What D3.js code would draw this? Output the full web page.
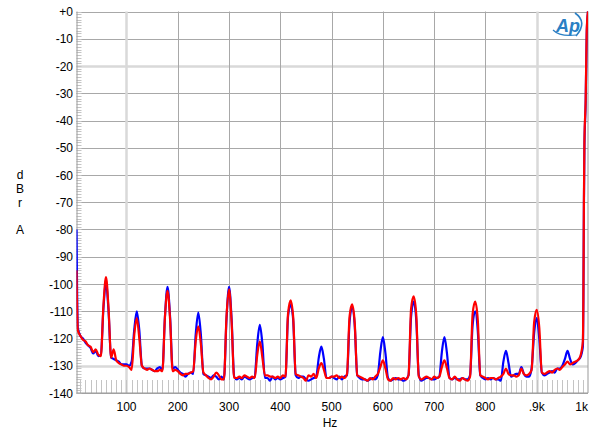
<!DOCTYPE html>
<html><head><meta charset="utf-8">
<script src="https://cdn.jsdelivr.net/npm/d3@7"></script>
<style>
body{margin:0;background:#fff}
svg{display:block}
text{font-family:"Liberation Sans",Arial,sans-serif;font-size:12px;fill:#000}
</style>
</head><body>
<svg id="c" width="600" height="437"></svg>
<script>
// ---------- data ----------
const yTicks = [0,-10,-20,-30,-40,-50,-60,-70,-80,-90,-100,-110,-120,-130,-140];
const yTickLabels = ["+0","-10","-20","-30","-40","-50","-60","-70","-80","-90","-100","-110","-120","-130","-140"];
const xTicks = [100,200,300,400,500,600,700,800,900,1000];
const xTickLabels = ["100","200","300","400","500","600","700","800",".9k","1k"];

// measurement frequency grid (Hz): start point, 5 Hz bins, then fundamental skirt
const startFreq = [2.5];
const binFreqs = d3.range(5, 986, 5);
const fundFreqs = [990, 991, 992, 993, 995.5, 997.5, 1000];

const blueStart = [-80];
const redStart = [-95];
const blueBins = [
 -116,-119,-120,-121.5,-122.5,-123.5,-125.5,-124.5,-126.5,-126,-109,-99.5,
 -110,-127,-127.5,-128,-128.5,-129.5,-129.5,-129.5,-130,-128.5,-117,-110,
 -117,-130,-131,-131,-131,-131.5,-132,-131,-130.5,-131.5,-112,-101,
 -112,-131,-130.5,-131.5,-132.5,-133,-134,-133,-132.5,-133,-118.5,-110.5,
 -118.5,-133,-133.5,-134,-134.5,-133.5,-134,-135,-134,-135,-113,-101,
 -113,-134,-135,-134.5,-135,-134,-134.5,-135,-134.5,-134,-122,-115,
 -122,-134.5,-134.5,-135.5,-134,-135,-134.5,-135,-134.5,-134,-112,-107.5,
 -113,-133.5,-134.5,-134,-134,-135,-135.5,-135,-134.5,-134,-127,-123,
 -127.5,-134.5,-134.5,-134,-134.5,-135,-134,-135,-134,-133.5,-114,-108.5,
 -115,-133.5,-134.5,-135,-135,-135.5,-135,-134.5,-135,-133.5,-125,-119.5,
 -125.5,-134.5,-135.5,-135,-134.5,-135,-135,-135.5,-135,-133.5,-112,-106.5,
 -113,-133.5,-135.5,-135,-134.5,-134.5,-135,-135,-134.5,-134,-125,-119.5,
 -125.5,-134.5,-135,-134.5,-135,-135,-134.5,-135,-135,-133.5,-115,-110,
 -117,-133.5,-134.5,-135,-134.5,-135,-134.5,-135,-135,-135.5,-128.5,-124.5,
 -129,-134,-133.5,-133,-133,-130.5,-133,-134,-134,-131,-118,-112.5,
 -120,-132.5,-133.5,-133,-132.5,-132,-132.5,-131,-131,-130,-127.5,-124.5,
 -127.5,-129.5,-129,-128,-127
];
const redBins = [
 -117,-119,-120.5,-121,-122.5,-123,-125,-124,-126,-126.5,-108,-97.5,
 -109,-127,-124,-128,-129,-129.5,-130,-130,-130.5,-131.5,-119,-112.5,
 -120,-130,-131,-131.5,-131,-131.5,-132,-132,-131.5,-132,-112,-102.5,
 -113,-132,-131.5,-132,-133,-133.5,-133,-133,-132.5,-132,-121,-115.5,
 -122,-132.5,-133.5,-134.5,-135,-134,-132.5,-133.5,-135,-135,-112,-102,
 -114,-134.5,-134.5,-134,-134.5,-133.5,-134,-134.5,-134,-134.5,-126,-121,
 -127,-133.5,-133.5,-134,-134,-134.5,-134,-134.5,-133.5,-134,-111,-106,
 -112,-133,-133.5,-134,-134.5,-135.5,-133.5,-134,-133,-134.5,-131,-129,
 -131.5,-134.5,-134.5,-134,-134,-133.5,-134.5,-134,-134.5,-133,-112,-107.5,
 -114,-133.5,-134,-134.5,-135,-135.5,-134.5,-135,-134,-133,-130.5,-128,
 -131,-135,-135.5,-134.5,-135,-134.5,-135,-134.5,-135,-133.5,-109,-104.5,
 -111,-134,-135,-134.5,-134,-134.5,-135,-134,-134.5,-134,-130.5,-128,
 -131,-134.5,-135,-134,-135,-135.5,-134.5,-135,-135.5,-134,-111,-106.5,
 -113,-133.5,-134,-134.5,-135,-134.5,-134.5,-135,-134.5,-134,-133,-131,
 -133,-133.5,-133.5,-134,-133.5,-131,-133,-133.5,-133,-131.5,-114,-109.5,
 -116,-132.5,-133,-132.5,-132,-132.5,-131.5,-131,-131.5,-130.5,-129.5,-128.5,
 -129.5,-129,-128.5,-128,-126.5
];
const blueFund = [-123,-106,-72,-50,-33,-8,0];
const redFund  = [-121,-105,-70,-48,-32,-7,0];

// ---------- chart ----------
const svg = d3.select("#c");
const L = 76.5, R = 588, T = 11.5, B = 393;
const x = d3.scaleLinear().domain([2.5, 1000]).range([L, R]);
const y = d3.scaleLinear().domain([0, -140]).range([T, B]);
const px = v => Math.round(v) + 0.5;

svg.append("defs").append("clipPath").attr("id","clip")
  .append("rect").attr("x",L).attr("y",T-1).attr("width",R-L).attr("height",B-T+1);

const grid = svg.append("g");
const lightY = [-20,-130], lightX = [100,900];
yTicks.forEach(v => {
  const isLight = lightY.includes(v);
  grid.append("line").attr("x1",L).attr("x2",R).attr("y1",px(y(v))).attr("y2",px(y(v)))
    .attr("stroke", isLight ? "#d9d9d9" : "#a8a8a8").attr("stroke-width", isLight ? 2.5 : 1);
});
xTicks.filter(v => v < 1000).forEach(v => {
  const isLight = lightX.includes(v);
  grid.append("line").attr("y1",T).attr("y2",B).attr("x1",px(x(v))).attr("x2",px(x(v)))
    .attr("stroke", isLight ? "#d9d9d9" : "#a8a8a8").attr("stroke-width", isLight ? 2.5 : 1);
});
d3.range(0, -141, -1).forEach(v => {
  grid.append("line").attr("x1",L).attr("x2",L+5).attr("y1",px(y(v))).attr("y2",px(y(v)))
    .attr("stroke","#c4c4c4").attr("stroke-width",1);
});
d3.range(10, 1000, 10).forEach(v => {
  grid.append("line").attr("x1",px(x(v))).attr("x2",px(x(v))).attr("y1",B).attr("y2",B-13)
    .attr("stroke","#c4c4c4").attr("stroke-width",1);
});
grid.append("line").attr("x1",px(L)-0.5).attr("x2",px(L)-0.5).attr("y1",T).attr("y2",B).attr("stroke","#999");
grid.append("line").attr("x1",px(R)-0.5).attr("x2",px(R)-0.5).attr("y1",T).attr("y2",B).attr("stroke","#999");
grid.append("line").attr("x1",L).attr("x2",R).attr("y1",px(B)-0.5).attr("y2",px(B)-0.5).attr("stroke","#999");

svg.append("g").selectAll("text").data(yTicks).join("text")
  .attr("x", 73).attr("y", d => y(d) + 4.5).attr("text-anchor","end")
  .text((d,i) => yTickLabels[i]);
svg.append("g").selectAll("text").data(xTicks).join("text")
  .attr("x", d => d === 1000 ? R : x(d)).attr("y", 411)
  .attr("text-anchor", d => d === 1000 ? "end" : "middle")
  .text((d,i) => xTickLabels[i]);
svg.append("text").attr("x",330).attr("y",427).attr("text-anchor","middle").text("Hz");
[["d",174],["B",188.5],["r",202],["A",229.5]].forEach(([t,cy]) =>
  svg.append("text").attr("x",20).attr("y",cy+4.5).attr("text-anchor","middle").text(t));

function build(start, bins, fund) {
  const f = startFreq.concat(binFreqs, fundFreqs);
  const v = start.concat(bins, fund);
  return f.map((ff,i) => [ff, v[i]]);
}
const line = d3.line().x(d => x(d[0])).y(d => y(d[1])).curve(d3.curveMonotoneX);
const plot = svg.append("g").attr("clip-path","url(#clip)");
plot.append("path").datum(build(blueStart, blueBins, blueFund))
  .attr("fill","none").attr("stroke","#0000ff").attr("stroke-width",2.2).attr("stroke-linejoin","round").attr("d",line);
plot.append("path").datum(build(redStart, redBins, redFund))
  .attr("fill","none").attr("stroke","#ff0000").attr("stroke-width",2.2).attr("stroke-linejoin","round").attr("d",line);

const logo = svg.append("g");
logo.append("text").attr("x",556).attr("y",32).attr("font-style","italic").attr("font-weight","bold")
  .style("font-size","18px").style("fill","#2a7fc4").style("font-family","'Liberation Sans',Arial,sans-serif").text("Ap");
logo.append("path").attr("d","M575 13 Q588 22 576 36").attr("fill","none").attr("stroke","#2a7fc4").attr("stroke-width",1.6);
logo.append("path").attr("d","M553 30 Q560 37 576 35").attr("fill","none").attr("stroke","#2a7fc4").attr("stroke-width",1.2);
</script>
</body></html>
